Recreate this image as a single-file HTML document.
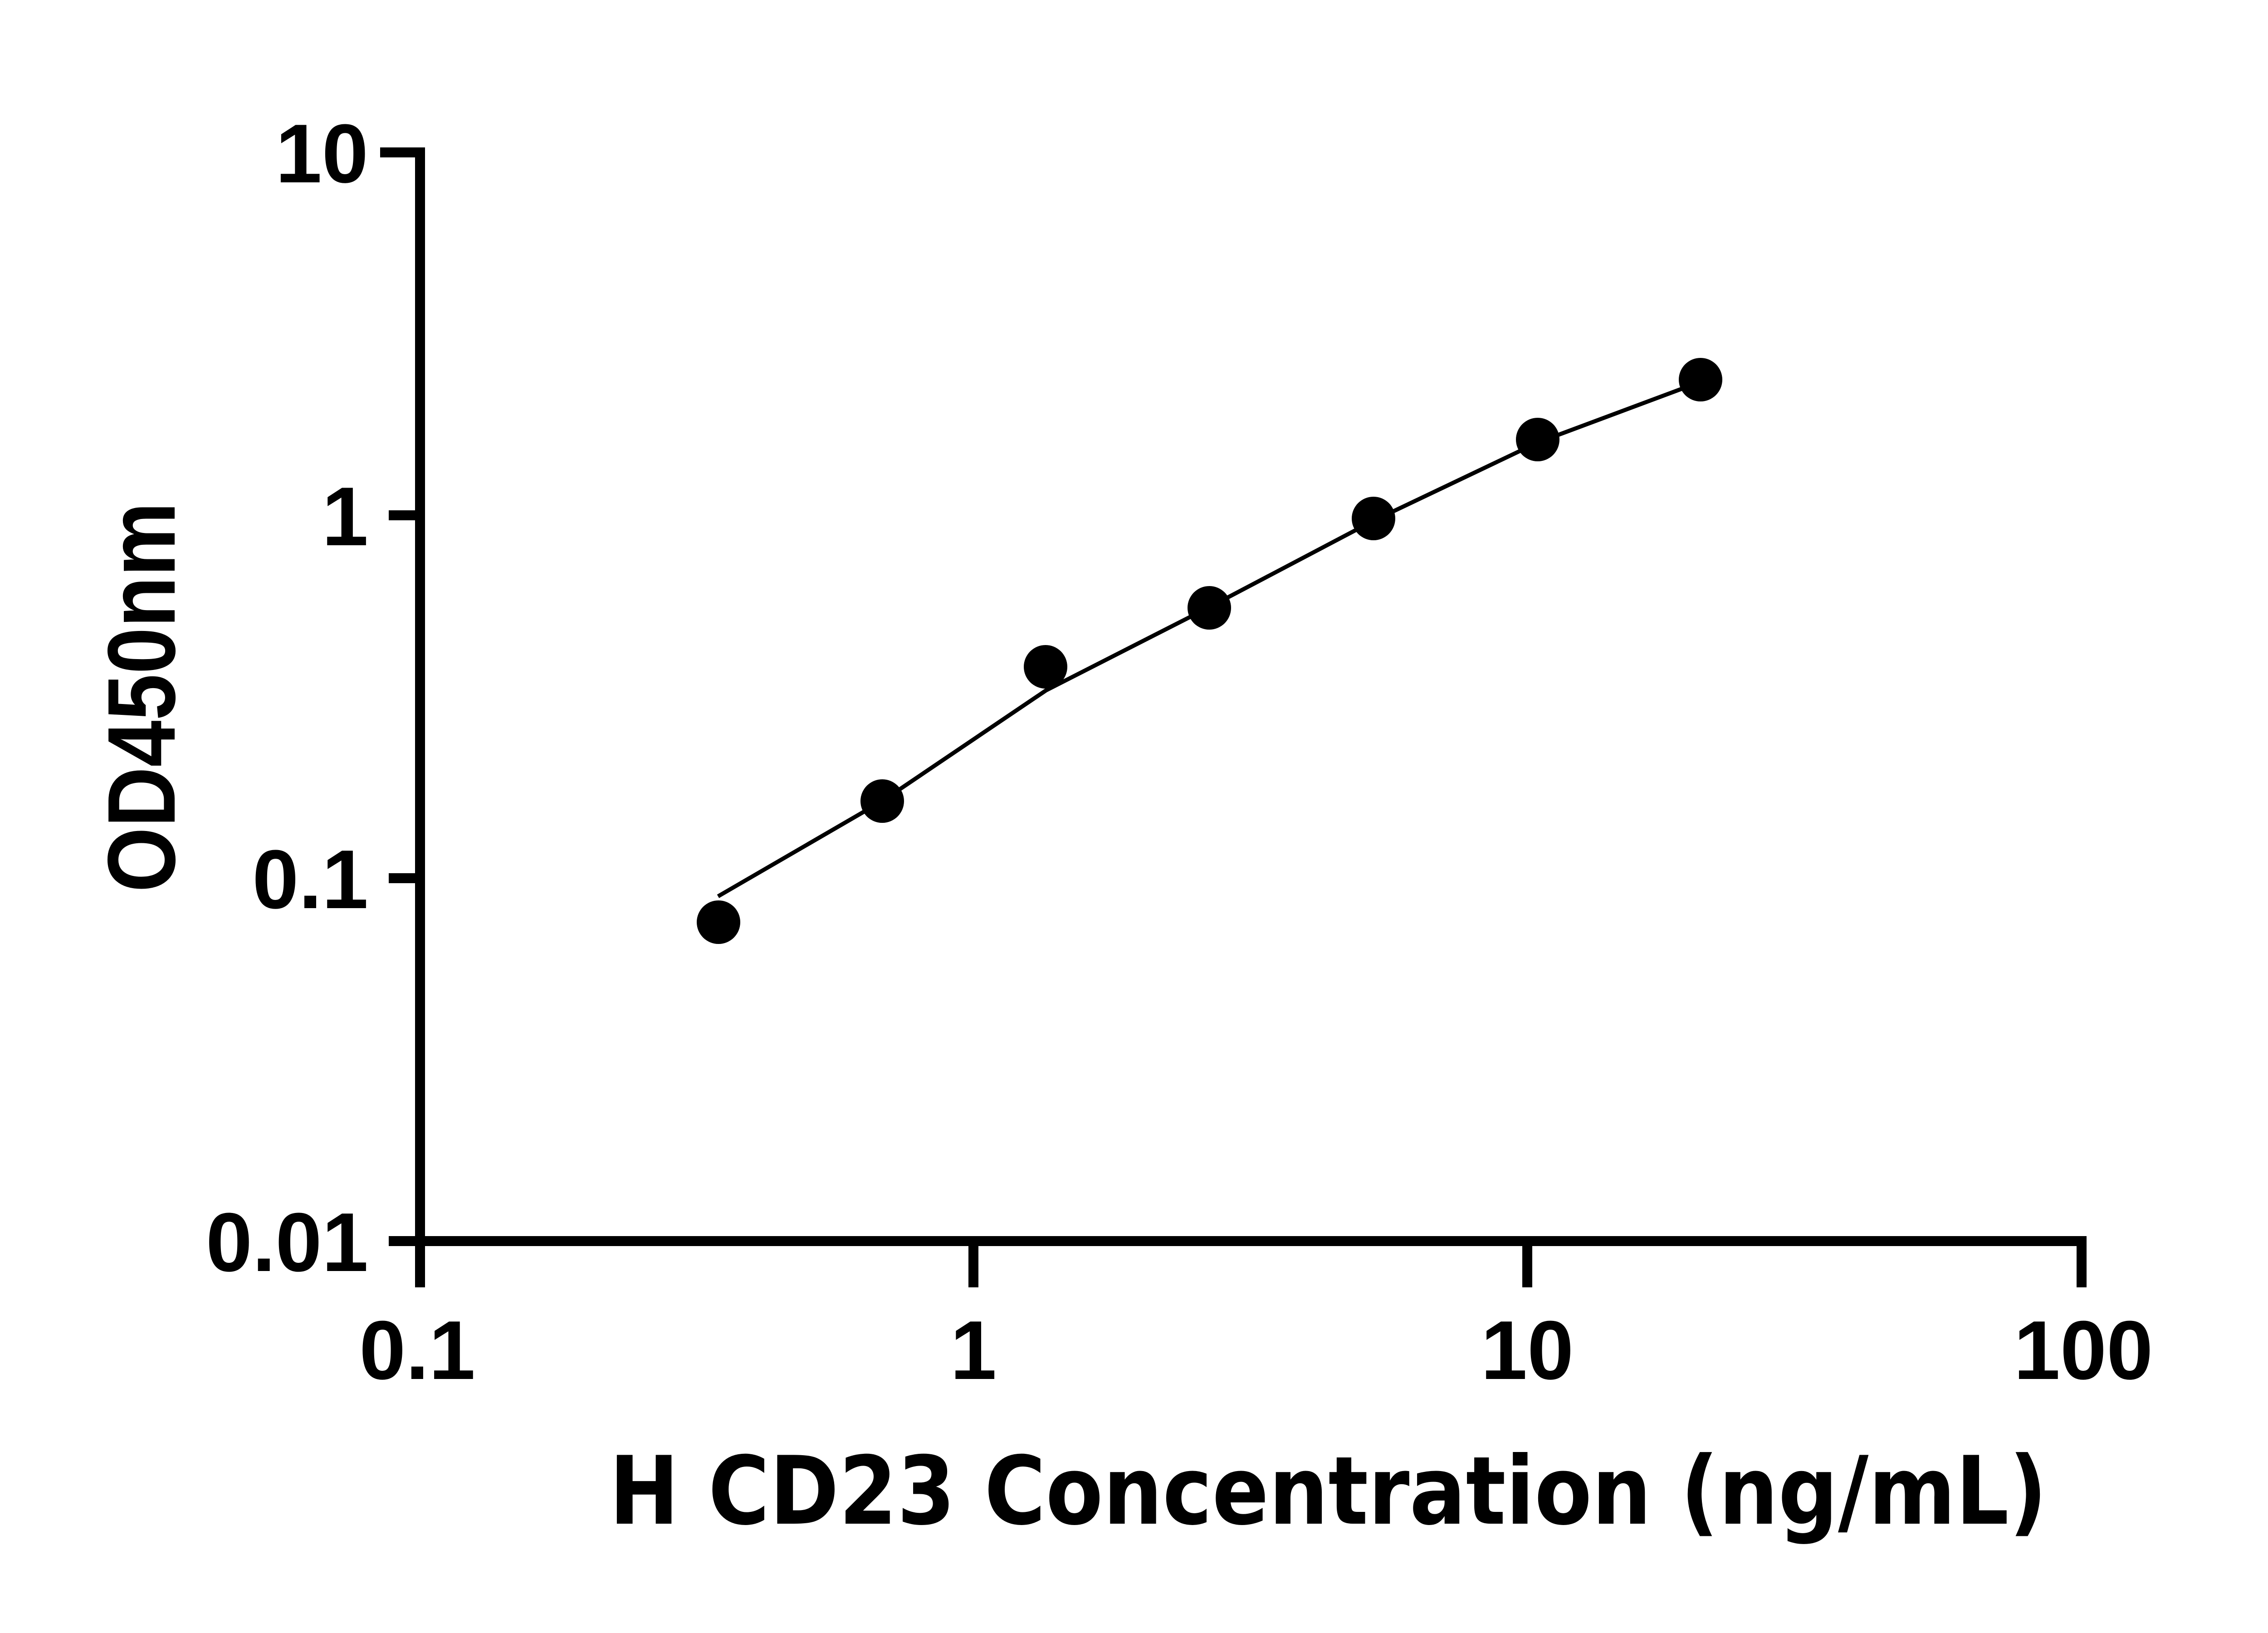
<!DOCTYPE html>
<html><head><meta charset="utf-8"><style>html,body{margin:0;padding:0;background:#fff}svg{display:block}</style></head>
<body>
<svg width="5142" height="3600" viewBox="0 0 5142 3600" xmlns="http://www.w3.org/2000/svg">
<rect width="5142" height="3600" fill="#fff"/>
<g stroke="#000" stroke-width="22" fill="none" stroke-linecap="butt">
<path d="M838 336 H926 V2736 H4589 V2838"/>
<path d="M857 1136 H926 M857 1936 H926 M857 2736 H926"/>
<path d="M926 2736 V2838 M2146 2736 V2838 M3367 2736 V2838"/>
</g>
<g style="font-family:'Liberation Sans', Arial, sans-serif;font-weight:bold" font-size="184" fill="#000">
<text x="812" y="402" text-anchor="end">10</text>
<text x="812" y="1202" text-anchor="end">1</text>
<text x="812" y="2002" text-anchor="end">0.1</text>
<text x="812" y="2802" text-anchor="end">0.01</text>
<text x="920" y="3040" text-anchor="middle">0.1</text>
<text x="2146" y="3040" text-anchor="middle">1</text>
<text x="3367" y="3040" text-anchor="middle">10</text>
<text x="4593" y="3040" text-anchor="middle">100</text>
</g>
<text x="0" y="0" transform="translate(385,1537) rotate(-90)" text-anchor="middle" style="font-family:'Liberation Sans', Arial, sans-serif;font-weight:bold" font-size="212" textLength="860" lengthAdjust="spacingAndGlyphs">OD450nm</text>
<text x="1343" y="3359" style="font-family:'DejaVu Sans', 'Liberation Sans', sans-serif;font-weight:bold" font-size="208" textLength="3170" lengthAdjust="spacingAndGlyphs">H CD23 Concentration (ng/mL)</text>
<path d="M1583 1976 L1945 1766 L2306 1522 L2667 1338 L3028 1148 L3389 976 L3740 845" stroke="#000" stroke-width="9" fill="none" stroke-linejoin="round"/>
<g fill="#000">
<circle cx="1584" cy="2033" r="48"/>
<circle cx="1945" cy="1766" r="48"/>
<circle cx="2305" cy="1470" r="48"/>
<circle cx="2666" cy="1340" r="48"/>
<circle cx="3028" cy="1143" r="48"/>
<circle cx="3390" cy="969" r="48"/>
<circle cx="3749" cy="837" r="48"/>
</g>
</svg>
</body></html>
